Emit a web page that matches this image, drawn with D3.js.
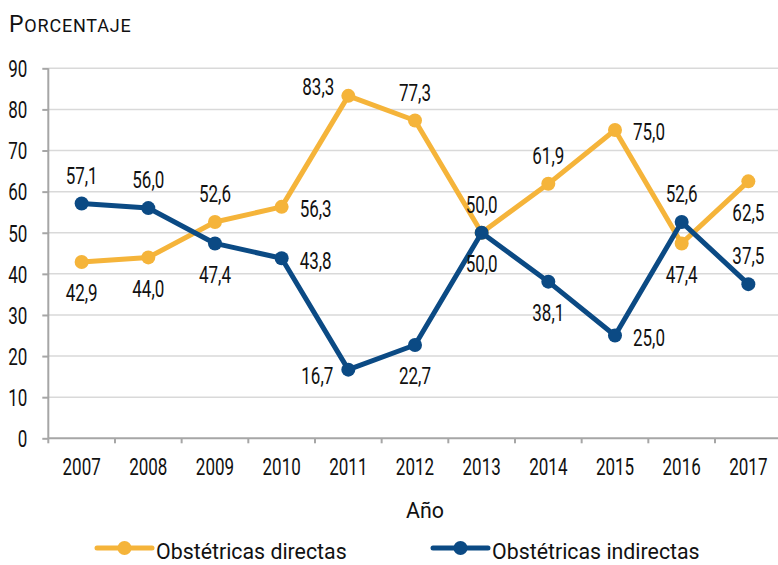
<!DOCTYPE html>
<html>
<head>
<meta charset="utf-8">
<script src="https://cdn.jsdelivr.net/npm/d3@7"></script>
<style>
  html, body { margin: 0; padding: 0; background: #fff; }
  svg { display: block; }
  text { font-family: Roboto, "DejaVu Sans Condensed", sans-serif; fill: #111; }
</style>
</head>
<body>
<svg id="chart" width="778" height="565"></svg>
<script>
// ---- data ----
const years = ["2007","2008","2009","2010","2011","2012","2013","2014","2015","2016","2017"];
const directas   = [42.9, 44.0, 52.6, 56.3, 83.3, 77.3, 50.0, 61.9, 75.0, 47.4, 62.5];
const indirectas = [57.1, 56.0, 47.4, 43.8, 16.7, 22.7, 50.0, 38.1, 25.0, 52.6, 37.5];
const directasLabelPos   = ["below","below","above","right","upperLeft","above","above","above","right","below","below"];
const indirectasLabelPos = ["above","above","below","right","lowerLeft","below","below","below","right","above","above"];
const yTicks = [0,10,20,30,40,50,60,70,80,90];
const seriesNames = ["Obstétricas directas", "Obstétricas indirectas"];
const yTitle = "Porcentaje";
const xTitle = "Año";

// ---- styles ----
const colors = ["#F5B43A", "#0B4A84"];
const fontSize = 23;
const numScale = 0.74;   // narrow figures
const wordScale = 0.93;

const svg = d3.select("#chart");
const x = d3.scaleBand().domain(years).range([48.3, 48.3 + 11 * 66.67]);
const y = d3.scaleLinear().domain([0, 90]).range([438.3, 68.3]);
const cx = d => x(d) + x.bandwidth() / 2;

function placeText(sel, fx, fy, sx) {
  sel.attr("transform", (d, i) => `translate(${fx(d, i)},${fy(d, i)}) scale(${sx},1)`)
     .attr("x", 0).attr("y", 0);
}

// gridlines
svg.append("g").selectAll("line").data(yTicks.filter(t => t > 0)).join("line")
  .attr("x1", 48.3).attr("x2", 778)
  .attr("y1", d => y(d)).attr("y2", d => y(d))
  .attr("stroke", "#d9d9d9").attr("stroke-width", 1.5);

// y axis
const yAxis = svg.append("g").attr("transform", "translate(48.3,0)")
  .call(d3.axisLeft(y).tickValues(yTicks).tickSize(6).tickFormat(d3.format("d")));
yAxis.select(".domain").attr("stroke", "#a6a6a6").attr("stroke-width", 2).attr("d", `M0,${y(90)}V${y(0)}`);
yAxis.selectAll(".tick line").attr("stroke", "#a6a6a6").attr("stroke-width", 2);
yAxis.selectAll(".tick text")
  .attr("font-size", fontSize).attr("font-family", null).attr("fill", "#111")
  .attr("text-anchor", "end").attr("dy", "0.36em")
  .call(placeText, () => -21, () => 0, numScale);

// x axis with ticks at band boundaries
const xAxisG = svg.append("g").attr("transform", `translate(0,${y(0)})`);
xAxisG.append("line").attr("x1", 48.3).attr("x2", 778).attr("y1", 0).attr("y2", 0)
  .attr("stroke", "#a6a6a6").attr("stroke-width", 2);
xAxisG.selectAll("line.tk").data(years).join("line").attr("class", "tk")
  .attr("x1", d => x(d)).attr("x2", d => x(d)).attr("y1", 0).attr("y2", 5)
  .attr("stroke", "#a6a6a6").attr("stroke-width", 2);
xAxisG.selectAll("text").data(years).join("text")
  .attr("text-anchor", "middle").attr("font-size", fontSize).text(d => d)
  .call(placeText, d => cx(d), () => 37, numScale);

// titles
const t = svg.append("text").attr("x", 9).attr("y", 32).attr("letter-spacing", 0.8);
t.append("tspan").attr("font-size", 23).text(yTitle[0].toUpperCase());
t.append("tspan").attr("font-size", 18).text(yTitle.slice(1).toUpperCase());

svg.append("text").attr("text-anchor", "middle")
  .attr("font-size", fontSize).text(xTitle)
  .call(placeText, () => 425, () => 518, wordScale);

// series
const line = d3.line().x(d => cx(d.year)).y(d => y(d.value));
const allSeries = [directas, indirectas];
const allPos = [directasLabelPos, indirectasLabelPos];
const offsets = {
  above: [0, -28], below: [0, 31], right: [34, 2],
  upperLeft: [-30, -9], lowerLeft: [-31, 6]
};

allSeries.forEach((vals, i) => {
  const data = years.map((yr, j) => ({ year: yr, value: vals[j], pos: allPos[i][j] }));
  const g = svg.append("g");
  g.append("path").datum(data).attr("d", line)
    .attr("fill", "none").attr("stroke", colors[i]).attr("stroke-width", 5)
    .attr("stroke-linejoin", "round");
  g.selectAll("circle").data(data).join("circle")
    .attr("cx", d => cx(d.year)).attr("cy", d => y(d.value)).attr("r", 7)
    .attr("fill", colors[i]);
});

// labels on top
allSeries.forEach((vals, i) => {
  const data = years.map((yr, j) => ({ year: yr, value: vals[j], pos: allPos[i][j] }));
  svg.append("g").selectAll("text").data(data).join("text")
    .attr("dy", "0.36em")
    .attr("text-anchor", "middle").attr("font-size", fontSize)
    .text(d => d.value.toFixed(1).replace(".", ","))
    .call(placeText, d => cx(d.year) + offsets[d.pos][0], d => y(d.value) + offsets[d.pos][1], numScale);
});

// legend
const legendX = [97, 433];
seriesNames.forEach((name, i) => {
  const g = svg.append("g").attr("transform", `translate(${legendX[i]},548)`);
  g.append("line").attr("x1", 0).attr("x2", 55).attr("y1", 0).attr("y2", 0)
    .attr("stroke", colors[i]).attr("stroke-width", 5).attr("stroke-linecap", "round");
  g.append("circle").attr("cx", 27.5).attr("cy", 0).attr("r", 7).attr("fill", colors[i]);
  g.append("text").attr("font-size", 22).text(name)
    .call(placeText, () => 59, () => 11, 0.97);
});
</script>
</body>
</html>
